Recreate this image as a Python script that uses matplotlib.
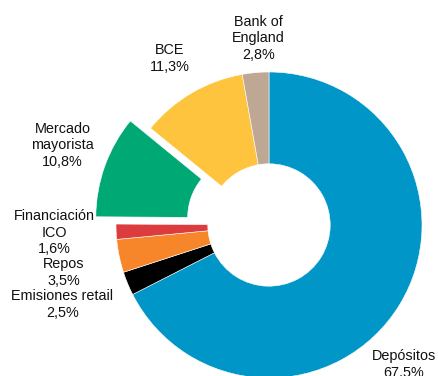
import matplotlib
matplotlib.use("Agg")
import matplotlib.pyplot as plt

# Funding structure, share of total (%)
names = ["Depósitos", "Emisiones retail", "Repos", "Financiación\nICO",
         "Mercado\nmayorista", "BCE", "Bank of\nEngland"]
shares = [67.5, 2.5, 3.5, 1.6, 10.8, 11.3, 2.8]
colors = ["#0096c8", "#000000", "#f7862b", "#dd3c3e", "#00a874", "#ffc43d", "#bfa893"]
explode = [0, 0, 0, 0, 0.14, 0, 0]

# label anchor points in pie units (radius = 1)
label_x = [0.88, -1.35, -1.34, -1.40, -1.35, -0.65, -0.07]
label_y = [-0.91, -0.52, -0.31, -0.05, 0.52, 1.09, 1.22]

plt.rcParams["font.family"] = ["Liberation Sans", "DejaVu Sans"]

fig = plt.figure(figsize=(4.38, 3.76), dpi=100)
ax = fig.add_axes([0, 0, 1, 1])

ax.pie(shares, colors=colors, explode=explode, startangle=90, counterclock=False,
       radius=1.0, wedgeprops=dict(width=0.6, edgecolor="white", linewidth=0.4))

for name, val, x, y in zip(names, shares, label_x, label_y):
    txt = "{}\n{}%".format(name, ("%.1f" % val).replace(".", ","))
    ax.text(x, y, txt, ha="center", va="center", fontsize=10.4, linespacing=1.25,
            color="#111111")

ax.set_xlim(-269 / 153, (438 - 269) / 153)
ax.set_ylim(-(376 - 225) / 153, 225 / 153)
ax.set_aspect("equal")
ax.axis("off")

fig.savefig("out.png", dpi=100)
